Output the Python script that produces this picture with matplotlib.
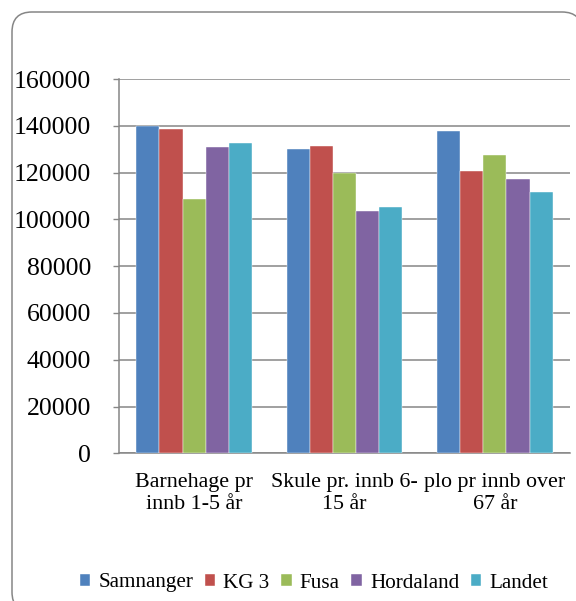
import matplotlib

matplotlib.use("Agg")
import matplotlib.pyplot as plt  # noqa: E402
import numpy as np  # noqa: E402
from matplotlib.patches import FancyBboxPatch  # noqa: E402

# Data
CATEGORIES = ["Barnehage pr\ninnb 1-5 år", "Skule pr. innb 6-\n15 år", "plo pr innb over\n67 år"]
SERIES = ["Samnanger", "KG 3", "Fusa", "Hordaland", "Landet"]
SAMNANGER = [139700, 129900, 137900]
KG3 = [138600, 131200, 120600]
FUSA = [108700, 119800, 127300]
HORDALAND = [131000, 103400, 117200]
LANDET = [132700, 105100, 111900]
Y_TICKS = [0, 20000, 40000, 60000, 80000, 100000, 120000, 140000, 160000]

COLORS = ["#4F81BD", "#C0504D", "#9BBB59", "#8064A2", "#4BACC6"]
GRID = "#868686"

plt.rcParams["font.family"] = ["Liberation Serif", "DejaVu Serif"]

W, H = 576, 601
fig = plt.figure(figsize=(W / 100, H / 100), dpi=100)

# rounded chart border (pixel coordinates)
bg = fig.add_axes([0, 0, 1, 1])
bg.set_xlim(0, W)
bg.set_ylim(H, 0)
bg.axis("off")
bg.add_patch(
    FancyBboxPatch(
        (12, 12), 570, 600,
        boxstyle="round,pad=0,rounding_size=20",
        facecolor="white", edgecolor=GRID, linewidth=1.1,
    )
)

left, right, top, bottom = 119, 570, 79, 453.3
ax = fig.add_axes([left / W, 1 - bottom / H, (right - left) / W, (bottom - top) / H])
ax.set_facecolor("none")

values = [SAMNANGER, KG3, FUSA, HORDALAND, LANDET]
x = np.arange(len(CATEGORIES))
w = 1 / 6.5
for i, (name, vals) in enumerate(zip(SERIES, values)):
    ax.bar(x + (i - 2) * w, vals, width=w, color=COLORS[i], label=name,
           edgecolor="white", linewidth=0.3, zorder=3)

ax.set_xlim(-0.5, len(CATEGORIES) - 0.5)
ax.set_ylim(0, 160000)
ax.set_yticks(Y_TICKS)
ax.set_yticklabels([str(v) for v in Y_TICKS], fontsize=18.5)
ax.set_xticks(x)
ax.set_xticklabels(CATEGORIES, fontsize=15.8, linespacing=1.25)
ax.tick_params(axis="x", length=0, pad=14)
ax.tick_params(axis="y", length=4, width=1.0, color=GRID, pad=16)
ax.grid(axis="y", color=GRID, linewidth=1.1, zorder=0)
ax.set_axisbelow(True)
for s in ("top", "right"):
    ax.spines[s].set_visible(False)
for s in ("left", "bottom"):
    ax.spines[s].set_color(GRID)
    ax.spines[s].set_linewidth(1.1)

fig.legend(
    loc="center", bbox_to_anchor=(314 / W, 1 - 583 / H), ncol=5, frameon=False,
    fontsize=15.2, handlelength=0.5, handleheight=0.5, handletextpad=0.38,
    columnspacing=0.55, borderpad=0, borderaxespad=0,
)

fig.savefig("out.png", dpi=100)
